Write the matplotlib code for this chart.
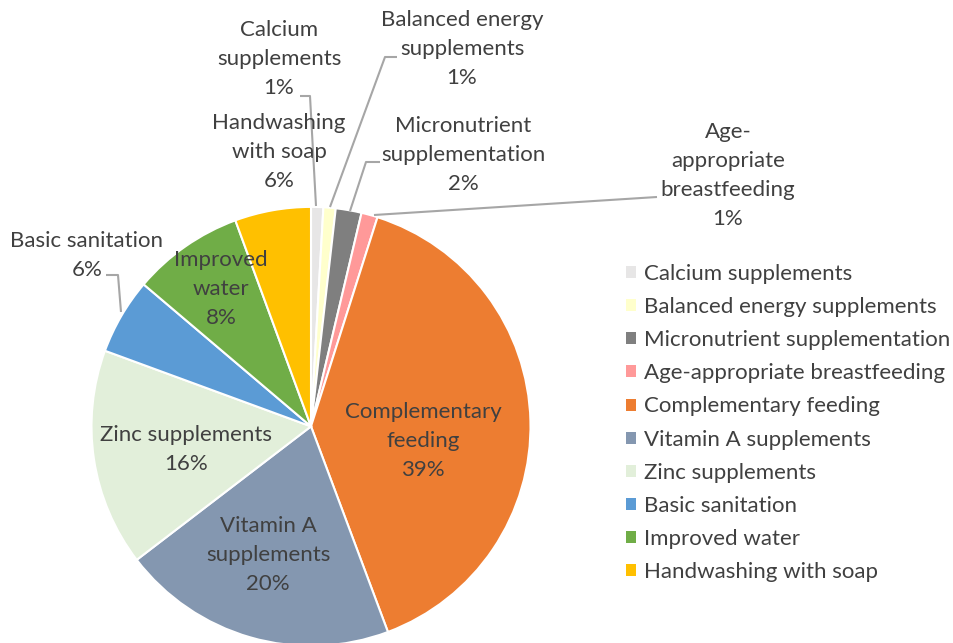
import matplotlib
matplotlib.use("Agg")
import matplotlib.pyplot as plt
from matplotlib.patches import Patch

# ---- data ----
categories = ["Calcium supplements", "Balanced energy supplements",
              "Micronutrient supplementation", "Age-appropriate breastfeeding",
              "Complementary feeding", "Vitamin A supplements", "Zinc supplements",
              "Basic sanitation", "Improved water", "Handwashing with soap"]
values = [0.9, 0.9, 1.9, 1.2, 39.4, 20.3, 16.0, 5.6, 8.2, 5.6]
label_names = ["Calcium\nsupplements", "Balanced energy\nsupplements",
               "Micronutrient\nsupplementation", "Age-\nappropriate\nbreastfeeding",
               "Complementary\nfeeding", "Vitamin A\nsupplements", "Zinc supplements",
               "Basic sanitation", "Improved\nwater", "Handwashing\nwith soap"]
colors = ["#E7E6E6", "#FFFFCC", "#7F7F7F", "#FF9999", "#ED7D31",
          "#8497B0", "#E2EFDA", "#5B9BD5", "#70AD47", "#FFC000"]

W, H = 954, 643
plt.rcParams['font.family'] = ['Lato', 'DejaVu Sans']
TXT = "#404040"
FS = 16

fig = plt.figure(figsize=(W / 100, H / 100), dpi=100)
ax = fig.add_axes([0, 0, 1, 1])

def py(y):
    return H - y

cx, cy, R = 311, 426.4, 219.5
wedges, _ = ax.pie(values, colors=colors, startangle=90, counterclock=False,
                   center=(cx, py(cy)), radius=R,
                   wedgeprops=dict(edgecolor="white", linewidth=1.5))
ax.set_xlim(0, W)
ax.set_ylim(0, H)
ax.set_aspect("equal")
ax.axis("off")

# label positions (pixel coords of text block centre)
label_pos = [(279, 59), (462, 49), (463, 155), (728, 175.5), (423, 441),
             (268, 555), (186, 449.5), (87, 255.5), (221, 289), (279, 152)]
tot = sum(values)
for name, v, (x, y) in zip(label_names, values, label_pos):
    ax.text(x, py(y), f"{name}\n{round(v / tot * 100)}%", ha="center", va="center",
            multialignment="center", fontsize=FS, color=TXT, linespacing=1.58)

# leader lines
leaders = [
    [(300, 96), (310, 96), (316, 206)],
    [(397, 57), (385, 57), (330, 207)],
    [(380, 162), (366, 162), (350, 211)],
    [(657, 197), (374, 215)],
    [(106, 275), (118, 275), (121, 312)],
]
for pts in leaders:
    xs = [p[0] for p in pts]
    ys = [py(p[1]) for p in pts]
    ax.plot(xs, ys, color="#A6A6A6", lw=1.5, solid_capstyle="butt")

handles = [Patch(facecolor=c, edgecolor="none") for c in colors]
leg = fig.legend(handles, categories, loc="upper left",
                 bbox_to_anchor=(626 / W, 1 - 264 / H), frameon=False,
                 fontsize=FS, handlelength=0.45, handleheight=0.45,
                 handletextpad=0.35, labelspacing=0.59, borderpad=0, borderaxespad=0)
for t in leg.get_texts():
    t.set_color(TXT)

fig.savefig("out.png", dpi=100)
